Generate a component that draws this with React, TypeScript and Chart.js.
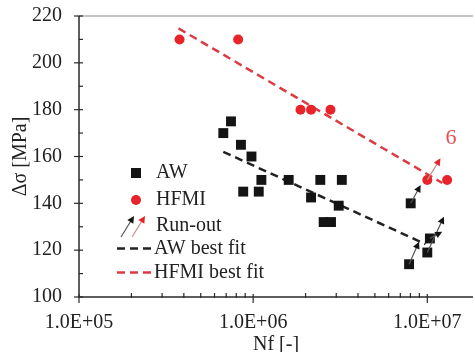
import React, { useEffect, useRef } from 'react';
import { Chart, registerables } from 'chart.js';
Chart.register(...registerables);

const W = 475;
const H = 352;
const CANVAS_W = 480;

// AW (as-welded) test results
const awN = [6.74e5, 7.46e5, 8.51e5, 9.78e5, 8.77e5, 1.077e6, 1.115e6, 1.6e6, 2.15e6, 2.43e6, 2.54e6, 2.8e6, 3.1e6, 3.23e6, 7.86e6, 8.03e6, 1.0e7, 1.035e7];
const awS = [170, 175, 165, 160, 145, 145, 150, 150, 142.5, 150, 132, 132, 139, 150, 114, 140, 119, 125];

// HFMI test results
const hfmiN = [3.78e5, 8.2e5, 1.87e6, 2.15e6, 2.78e6, 1.0e7, 1.3e7];
const hfmiS = [210, 210, 180, 180, 180, 150, 150];

// best fit lines
const awFitN = [6.74e5, 9.75e6];
const awFitS = [162, 122.6];
const hfmiFitN = [3.73e5, 1.22e7];
const hfmiFitS = [214.7, 148.7];

// run-out arrows
const runFromN = [8.03e6, 7.86e6, 1.0e7, 1.035e7, 1.0e7];
const runFromS = [140, 114, 119, 125, 150];
const runToN = [9.16e6, 8.97e6, 1.246e7, 1.218e7, 1.19e7];
const runToS = [147.8, 123.6, 134.3, 127.9, 159.2];
const runSeries = ['AW', 'AW', 'AW', 'AW', 'HFMI'];

// annotation
const noteText = '6';
const noteN = 1.37e7;
const noteS = 168;

// axis
const xMin = 1e5;
const xMax = 1.83e7;
const yMin = 100;
const yMax = 220;
const yStep = 20;

const BLACK = '#141414';
const RED = '#e8232a';
const RED_LINE = '#dc3a44';
const FONT = '"Liberation Serif", "Times New Roman", serif';

function arrow(ctx: CanvasRenderingContext2D, x1: number, y1: number, x2: number, y2: number, lineColor: string, headColor: string) {
  const ang = Math.atan2(y2 - y1, x2 - x1);
  const hl = 7;
  const hw = 3.5;
  ctx.save();
  ctx.strokeStyle = lineColor;
  ctx.lineWidth = 1.2;
  ctx.beginPath();
  ctx.moveTo(x1, y1);
  ctx.lineTo(x2 - Math.cos(ang) * hl * 0.8, y2 - Math.sin(ang) * hl * 0.8);
  ctx.stroke();
  ctx.fillStyle = headColor;
  ctx.beginPath();
  ctx.moveTo(x2, y2);
  ctx.lineTo(x2 - Math.cos(ang) * hl - Math.sin(ang) * hw, y2 - Math.sin(ang) * hl + Math.cos(ang) * hw);
  ctx.lineTo(x2 - Math.cos(ang) * hl + Math.sin(ang) * hw, y2 - Math.sin(ang) * hl - Math.cos(ang) * hw);
  ctx.closePath();
  ctx.fill();
  ctx.restore();
}

const decor = {
  id: 'decor',
  beforeDraw(chart: any) {
    const { ctx } = chart;
    ctx.save();
    ctx.fillStyle = '#fff';
    ctx.fillRect(0, 0, chart.width, chart.height);
    ctx.restore();
  },
  afterDatasetsDraw(chart: any) {
    const { ctx, chartArea: a } = chart;
    const xs = chart.scales.x;
    const ys = chart.scales.y;
    ctx.save();
    // top border
    ctx.strokeStyle = '#8a8a8a';
    ctx.lineWidth = 1.2;
    ctx.beginPath();
    ctx.moveTo(a.left, a.top);
    ctx.lineTo(a.right, a.top);
    ctx.stroke();
    // axes
    ctx.strokeStyle = '#2a2a2a';
    ctx.lineWidth = 1.5;
    ctx.beginPath();
    ctx.moveTo(a.left, a.top);
    ctx.lineTo(a.left, a.bottom);
    ctx.lineTo(a.right, a.bottom);
    ctx.stroke();
    ctx.lineWidth = 1.2;
    // y ticks
    for (let v = yMin; v <= yMax; v += yStep) {
      const py = ys.getPixelForValue(v);
      ctx.beginPath();
      ctx.moveTo(a.left - 5, py);
      ctx.lineTo(a.left + 4, py);
      ctx.stroke();
    }
    for (let v = yMin + yStep / 2; v < yMax; v += yStep) {
      const py = ys.getPixelForValue(v);
      ctx.beginPath();
      ctx.moveTo(a.left, py);
      ctx.lineTo(a.left + 4, py);
      ctx.stroke();
    }
    // x ticks
    for (let e = 5; e <= 7; e++) {
      for (let m = 1; m <= 9; m++) {
        const v = m * Math.pow(10, e);
        if (v > xMax) continue;
        const px = xs.getPixelForValue(v);
        ctx.beginPath();
        if (m === 1) {
          ctx.moveTo(px, a.bottom - 3);
          ctx.lineTo(px, a.bottom + 6);
        } else {
          ctx.moveTo(px, a.bottom - 4);
          ctx.lineTo(px, a.bottom + 1);
        }
        ctx.stroke();
      }
    }
    // run-out arrows
    for (let i = 0; i < runFromN.length; i++) {
      const isRed = runSeries[i] === 'HFMI';
      arrow(ctx,
        xs.getPixelForValue(runFromN[i]), ys.getPixelForValue(runFromS[i]),
        xs.getPixelForValue(runToN[i]), ys.getPixelForValue(runToS[i]),
        isRed ? '#c98a8a' : '#555', isRed ? RED : BLACK);
    }
    // annotation
    ctx.fillStyle = '#e05050';
    ctx.font = `22px ${FONT}`;
    ctx.textAlign = 'center';
    ctx.textBaseline = 'middle';
    ctx.fillText(noteText, xs.getPixelForValue(noteN), ys.getPixelForValue(noteS));

    // legend
    const lx = a.left + 77; // text start
    const mx = a.left + 57; // marker center
    ctx.font = `20px ${FONT}`;
    ctx.textAlign = 'left';
    ctx.textBaseline = 'middle';
    ctx.fillStyle = '#222';
    const rows = [173, 200, 226, 248.5, 272.5];
    // AW
    ctx.fillStyle = BLACK;
    ctx.fillRect(mx - 5, rows[0] - 5, 10, 10);
    ctx.fillStyle = '#222';
    ctx.fillText('AW', lx, rows[0]);
    // HFMI
    ctx.fillStyle = RED;
    ctx.beginPath();
    ctx.arc(mx, rows[1], 5, 0, Math.PI * 2);
    ctx.fill();
    ctx.fillStyle = '#222';
    ctx.fillText('HFMI', lx, rows[1]);
    // Run-out
    arrow(ctx, mx - 15, rows[2] + 11, mx - 2, rows[2] - 10, '#555', BLACK);
    arrow(ctx, mx - 4, rows[2] + 11, mx + 9, rows[2] - 10, '#c98a8a', RED);
    ctx.fillStyle = '#222';
    ctx.fillText('Run-out', lx, rows[2]);
    // AW best fit
    ctx.lineWidth = 2.5;
    ctx.setLineDash([8, 5]);
    ctx.strokeStyle = '#222';
    ctx.beginPath();
    ctx.moveTo(mx - 19, rows[3]);
    ctx.lineTo(mx + 18, rows[3]);
    ctx.stroke();
    ctx.fillText('AW best fit', lx - 2, rows[3]);
    ctx.strokeStyle = RED_LINE;
    ctx.beginPath();
    ctx.moveTo(mx - 19, rows[4]);
    ctx.lineTo(mx + 18, rows[4]);
    ctx.stroke();
    ctx.setLineDash([]);
    ctx.fillText('HFMI best fit', lx - 2, rows[4]);
    ctx.restore();
  },
};

function fmt(v: number): string {
  const e = Math.round(Math.log10(v));
  if (Math.abs(Math.log10(v) - e) > 1e-9) return '';
  return `1.0E+${String(e).padStart(2, '0')}`;
}

const hiddenGrid = {
  display: true,
  drawOnChartArea: false,
  drawTicks: true,
  color: 'rgba(0,0,0,0)',
};

export default function App() {
  const ref = useRef<HTMLCanvasElement>(null);
  useEffect(() => {
    const chart = new Chart(ref.current as HTMLCanvasElement, {
      type: 'scatter',
      data: {
        datasets: [
          {
            label: 'AW best fit',
            data: awFitN.map((n, i) => ({ x: n, y: awFitS[i] })),
            showLine: true,
            borderColor: '#222',
            borderWidth: 2.5,
            borderDash: [8, 5],
            pointRadius: 0,
            order: 3,
          },
          {
            label: 'HFMI best fit',
            data: hfmiFitN.map((n, i) => ({ x: n, y: hfmiFitS[i] })),
            showLine: true,
            borderColor: RED_LINE,
            borderWidth: 2.5,
            borderDash: [8, 5],
            pointRadius: 0,
            order: 3,
          },
          {
            label: 'AW',
            data: awN.map((n, i) => ({ x: n, y: awS[i] })),
            pointStyle: 'rect',
            pointRadius: 7,
            backgroundColor: BLACK,
            borderWidth: 0,
            order: 1,
          },
          {
            label: 'HFMI',
            data: hfmiN.map((n, i) => ({ x: n, y: hfmiS[i] })),
            pointStyle: 'circle',
            pointRadius: 5,
            backgroundColor: RED,
            borderWidth: 0,
            order: 1,
          },
        ],
      },
      options: {
        responsive: false,
        animation: false,
        events: [],
        layout: { padding: { top: 16, right: 0, bottom: 0, left: 0 } },
        plugins: { legend: { display: false }, tooltip: { enabled: false } },
        scales: {
          x: {
            type: 'logarithmic',
            min: xMin,
            max: xMax,
            grid: { ...hiddenGrid, tickLength: 14 },
            border: { display: false },
            afterFit: (s: any) => { s.height = 55; },
            ticks: {
              autoSkip: false,
              maxRotation: 0,
              padding: 0,
              color: '#222',
              font: { family: FONT, size: 20 },
              callback: (v: any) => fmt(Number(v)),
            },
            title: {
              display: true,
              text: 'Nf [-]',
              color: '#222',
              font: { family: FONT, size: 20, lineHeight: 0.7 },
              padding: { top: 0, bottom: 0 },
            },
          },
          y: {
            type: 'linear',
            min: yMin,
            max: yMax,
            grid: { ...hiddenGrid, tickLength: 17 },
            border: { display: false },
            afterFit: (s: any) => { s.width = 79; },
            ticks: {
              stepSize: yStep,
              padding: 0,
              color: '#222',
              font: { family: FONT, size: 20 },
            },
            title: {
              display: true,
              text: 'Δσ [MPa]',
              color: '#222',
              font: { family: FONT, size: 20, lineHeight: 1.2 },
              padding: { top: 9, bottom: 0 },
            },
          },
        },
      },
      plugins: [decor],
    } as any);
    return () => chart.destroy();
  }, []);
  return (
    <div style={{ position: 'fixed', left: 0, top: 0, width: W, height: H, overflow: 'hidden', background: '#fff' }}>
      <canvas ref={ref} width={CANVAS_W} height={H} style={{ display: 'block', width: CANVAS_W, height: H }} />
    </div>
  );
}
